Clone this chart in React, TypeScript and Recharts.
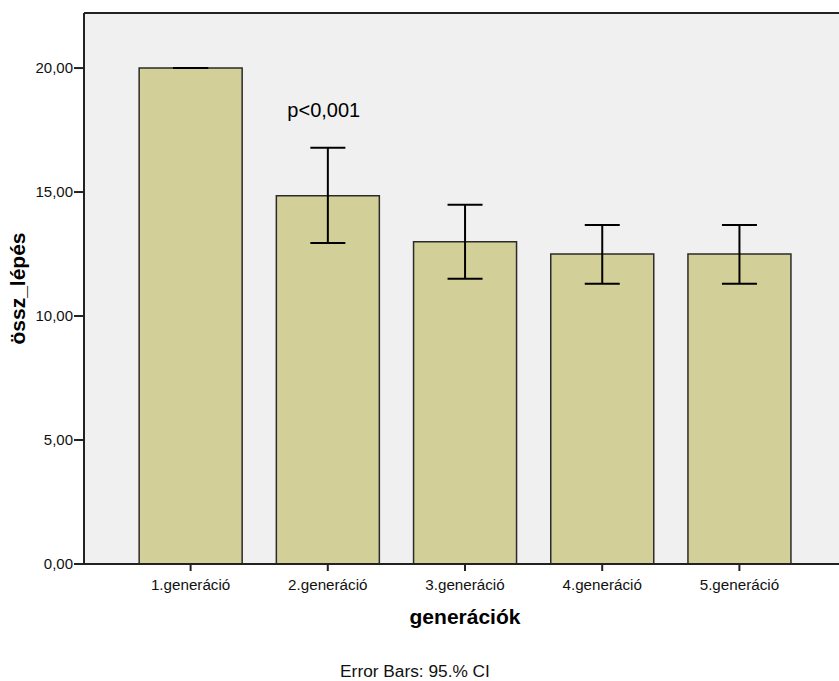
import React from "react"
import {
  Bar,
  BarChart,
  CartesianGrid,
  ErrorBar,
  ReferenceDot,
  ReferenceLine,
  XAxis,
  YAxis,
} from "recharts"

const categories = ["1.generáció", "2.generáció", "3.generáció", "4.generáció", "5.generáció"]
const means = [20, 14.85, 13.0, 12.5, 12.5]
const ciLow = [20, 12.94, 11.5, 11.3, 11.3]
const ciHigh = [20, 16.79, 14.49, 13.67, 13.67]
const yTicks = [0, 5, 10, 15, 20]
const Y_MAX = 22.22

const FONT = "Arial, 'Liberation Sans', sans-serif"

const chartData = categories.map((name, i) => ({
  name,
  mean: means[i],
  err: [means[i] - ciLow[i], ciHigh[i] - means[i]],
}))

export default function App(): React.JSX.Element {
  return (
    <div
      style={{
        position: "absolute",
        left: 0,
        top: 0,
        width: 839,
        height: 681,
        overflow: "hidden",
        background: "#fff",
        fontFamily: FONT,
      }}
    >
      <BarChart
        width={850}
        height={681}
        data={chartData}
        margin={{ top: 13, right: 4, left: 0, bottom: 67 }}
        barCategoryGap="12.5%"
      >
        <CartesianGrid fill="#F0F0F0" horizontal={false} vertical={false} />
        <XAxis
          dataKey="name"
          height={50}
          padding={{ left: 38, right: 38 }}
          tick={{ fill: "#111", fontSize: 15.2, fontFamily: FONT }}
          tickSize={7}
          tickMargin={8}
          tickLine={{ stroke: "#222", strokeWidth: 2 }}
          axisLine={{ stroke: "#222", strokeWidth: 2 }}
          label={{
            value: "generációk",
            position: "center",
            dy: 28,
            fontSize: 21,
            fontWeight: "bold",
            fill: "#000",
            fontFamily: FONT,
          }}
        />
        <YAxis
          width={84}
          domain={[0, Y_MAX]}
          ticks={yTicks}
          tickFormatter={(v: number) => v.toFixed(2).replace(".", ",")}
          tick={{ fill: "#111", fontSize: 15, fontFamily: FONT }}
          tickSize={10}
          tickMargin={1}
          tickLine={{ stroke: "#222", strokeWidth: 2 }}
          axisLine={{ stroke: "#222", strokeWidth: 2 }}
          label={{
            value: "össz_lépés",
            angle: -90,
            position: "center",
            dx: -24,
            fontSize: 21,
            fontWeight: "bold",
            fill: "#000",
            fontFamily: FONT,
          }}
        />
        <ReferenceLine y={Y_MAX} stroke="#222" strokeWidth={2} />
        <Bar
          dataKey="mean"
          fill="#D3CF98"
          stroke="#2b2b2b"
          strokeWidth={1.5}
          isAnimationActive={false}
        >
          <ErrorBar dataKey="err" width={17.5} stroke="#000" strokeWidth={2} />
        </Bar>
        <ReferenceDot
          x="2.generáció"
          y={18.3}
          r={0}
          fill="none"
          stroke="none"
          label={{
            value: "p<0,001",
            position: "center",
            dx: -4,
            fontSize: 20,
            fill: "#000",
            fontFamily: FONT,
          }}
        />
      </BarChart>
      <div
        style={{
          position: "absolute",
          left: 0,
          width: 830,
          top: 661,
          textAlign: "center",
          fontSize: 17.3,
          color: "#111",
          fontFamily: FONT,
          lineHeight: "20px",
        }}
      >
        Error Bars: 95.% CI
      </div>
    </div>
  )
}
